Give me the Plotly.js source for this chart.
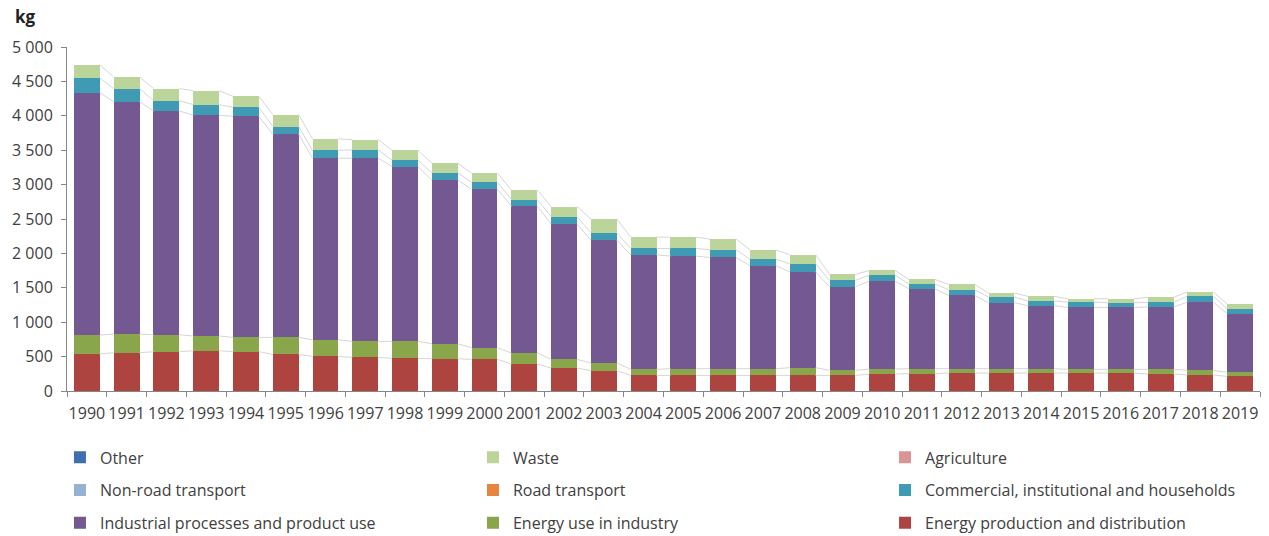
<!DOCTYPE html>
<html>
<head>
<meta charset="utf-8">
<script src="https://cdn.plot.ly/plotly-3.0.1.min.js"></script>
<style>html,body{margin:0;padding:0;background:#fff;}#chart{width:1269px;height:536px;}</style>
</head>
<body>
<div id="chart"></div>
<script>
const years = [1990,1991,1992,1993,1994,1995,1996,1997,1998,1999,2000,2001,2002,2003,2004,2005,2006,2007,2008,2009,2010,2011,2012,2013,2014,2015,2016,2017,2018,2019];
const yearLabels = years.map(String);

const energyProduction = [537,557,571,586,571,532,503,489,474,469,460,392,334,295,227,227,227,227,227,227,247,252,261,261,261,261,261,247,232,213];
const energyIndustry   = [276,271,247,213,208,247,242,232,247,218,169,160,126,112,88,97,97,97,112,73,72,72,63,63,63,54,54,68,68,58];
const industrialProc   = [3524,3378,3252,3209,3214,2953,2638,2662,2541,2377,2304,2134,1965,1786,1665,1636,1617,1496,1394,1215,1278,1162,1065,959,915,900,900,905,992,852];
const commercial       = [213,189,150,154,131,111,116,121,92,106,102,97,111,106,92,112,111,97,116,92,87,68,82,82,68,77,68,68,87,68];
const roadTransport    = [0,0,0,0,0,0,0,0,0,0,0,0,0,0,0,0,0,0,0,0,0,0,0,0,0,0,0,0,0,0];
const nonRoadTransport = [0,0,0,0,0,0,0,0,0,0,0,0,0,0,0,0,0,0,0,0,0,0,0,0,0,0,0,0,0,0];
const agriculture      = [0,0,0,0,0,0,0,0,0,0,0,0,0,0,0,0,0,0,0,0,0,0,0,0,0,0,0,0,0,0];
const waste            = [193,169,175,204,159,174,165,150,145,141,130,140,145,203,164,164,155,135,131,87,68,67,78,58,68,49,58,72,63,72];
const other            = [0,0,0,0,0,0,0,0,0,0,0,0,0,0,0,0,0,0,0,0,0,0,0,0,0,0,0,0,0,0];

const yTickVals = [0,500,1000,1500,2000,2500,3000,3500,4000,4500,5000];
const yTickText = ['0','500','1 000','1 500','2 000','2 500','3 000','3 500','4 000','4 500','5 000'];

// stacking order bottom -> top; legend column and row
const series = [
  {name:'Energy production and distribution', y:energyProduction, color:'#AD4440', legend:'legend3', row:3},
  {name:'Energy use in industry', y:energyIndustry, color:'#8AA64B', legend:'legend2', row:3},
  {name:'Industrial processes and product use', y:industrialProc, color:'#735891', legend:'legend', row:3},
  {name:'Commercial, institutional and households', y:commercial, color:'#3F9AB4', legend:'legend3', row:2},
  {name:'Road transport', y:roadTransport, color:'#E5853F', legend:'legend2', row:2},
  {name:'Non-road transport', y:nonRoadTransport, color:'#95B1D6', legend:'legend', row:2},
  {name:'Agriculture', y:agriculture, color:'#D79593', legend:'legend3', row:1},
  {name:'Waste', y:waste, color:'#BBD499', legend:'legend2', row:1},
  {name:'Other', y:other, color:'#3F70AD', legend:'legend', row:1}
];

const barWidth = 0.65;
const traces = series.map(s => ({
  type:'bar', x:years, y:s.y, name:s.name, legend:s.legend, legendgroup:s.name, legendrank:s.row,
  marker:{color:s.color, line:{width:0}}, width:barWidth, hoverinfo:'name+y'
}));

// series lines connecting segment tops between adjacent bars
let cum = years.map(() => 0);
series.forEach(s => {
  cum = cum.map((c,i) => c + s.y[i]);
  if (s.y.every(v => v === 0)) return;
  const lx = [], ly = [];
  for (let i = 0; i < years.length - 1; i++) {
    lx.push(years[i] + barWidth/2, years[i+1] - barWidth/2, null);
    ly.push(cum[i], cum[i+1], null);
  }
  traces.push({type:'scatter', mode:'lines', x:lx, y:ly, showlegend:false, hoverinfo:'skip',
    line:{color:'#D6D6D6', width:1}});
});

const font = {family:'"Open Sans", sans-serif', size:16, color:'#404040'};
const legendBase = {orientation:'v', xanchor:'left', yanchor:'top', y:-0.1435,
  traceorder:'grouped', tracegroupgap:9, font:font,
  bgcolor:'rgba(0,0,0,0)', itemclick:false};

const layout = {
  width:1269, height:536,
  margin:{l:67, r:9, t:47, b:145, autoexpand:false},
  paper_bgcolor:'#fff', plot_bgcolor:'#fff',
  font:font,
  barmode:'stack', bargap:0.35,
  xaxis:{range:[1989.5,2019.5], tickvals:years, ticktext:yearLabels, ticks:'',
    showline:true, linecolor:'#868686', linewidth:1, showgrid:false, zeroline:false,
    tickfont:font, ticklabelstandoff:8,
    minor:{tickmode:'linear', tick0:1989.5, dtick:1, ticks:'outside', ticklen:5, tickcolor:'#868686', showgrid:false}},
  yaxis:{range:[0,5000], tickvals:yTickVals, ticktext:yTickText, ticks:'outside', ticklen:5,
    tickcolor:'#868686', showline:true, linecolor:'#868686', linewidth:1, showgrid:false,
    zeroline:false, tickfont:font, ticklabelstandoff:5},
  legend:Object.assign({}, legendBase, {x:-0.0059}),
  legend2:Object.assign({}, legendBase, {x:0.3403}),
  legend3:Object.assign({}, legendBase, {x:0.6857}),
  annotations:[{text:'<b>kg</b>', xref:'paper', yref:'paper', x:-0.0455, y:1.09, xanchor:'left', yanchor:'middle',
    showarrow:false, font:{family:'"Open Sans", sans-serif', size:17, color:'#222'}}],
  showlegend:true
};

Plotly.newPlot('chart', traces, layout, {staticPlot:true, displayModeBar:false});
</script>
</body>
</html>
